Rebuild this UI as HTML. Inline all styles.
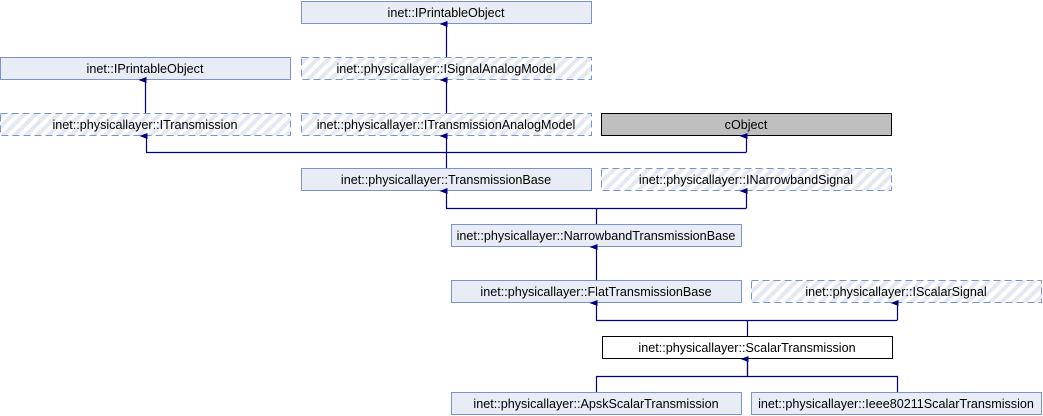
<!DOCTYPE html>
<html><head><meta charset="utf-8"><style>
html,body{margin:0;padding:0;background:#fff;width:1043px;height:416px;overflow:hidden}
text{font-family:"Liberation Sans",sans-serif;font-size:12.6px;fill:#000}
</style></head><body>
<svg width="1043" height="416" xmlns="http://www.w3.org/2000/svg">
<defs>
<pattern id="h" width="8" height="8" patternUnits="userSpaceOnUse" patternTransform="rotate(-45)">
<rect width="8" height="8" fill="#fff"/><rect width="8" height="4" fill="#e4e8f2"/>
</pattern>
<marker id="a" markerWidth="8" markerHeight="8" refX="4" refY="7" orient="auto" markerUnits="userSpaceOnUse" viewBox="0 0 8 8">
<path d="M4,0 L7,8 L1,8 Z" fill="#000080"/>
</marker>
</defs>
<g stroke="#7b93c9" stroke-width="1">
<rect x="301.5" y="1.5" width="290" height="22" fill="#e8ecf5"/>
<rect x="0.5" y="57.5" width="290" height="22" fill="#e8ecf5"/>
<rect x="301.5" y="57.5" width="290" height="22" fill="url(#h)" stroke-dasharray="7,4"/>
<rect x="0.5" y="113.5" width="290" height="22" fill="url(#h)" stroke-dasharray="7,4"/>
<rect x="301.5" y="113.5" width="290" height="22" fill="url(#h)" stroke-dasharray="7,4"/>
<rect x="601.5" y="113.5" width="290" height="22" fill="#bfbfbf" stroke="#000"/>
<rect x="301.5" y="168.5" width="290" height="22" fill="#e8ecf5"/>
<rect x="601.5" y="168.5" width="290" height="22" fill="url(#h)" stroke-dasharray="7,4"/>
<rect x="451.5" y="224.5" width="290" height="22" fill="#e8ecf5"/>
<rect x="451.5" y="280.5" width="290" height="22" fill="#e8ecf5"/>
<rect x="751.5" y="280.5" width="290" height="22" fill="url(#h)" stroke-dasharray="7,4"/>
<rect x="602.5" y="336.5" width="290" height="22" fill="#fff" stroke="#000"/>
<rect x="451.5" y="392.5" width="290" height="22" fill="#e8ecf5"/>
<rect x="751.5" y="392.5" width="290" height="22" fill="#e8ecf5"/>
</g>
<g text-anchor="middle">
<text x="446" y="17">inet::IPrintableObject</text>
<text x="145" y="73">inet::IPrintableObject</text>
<text x="446" y="73">inet::physicallayer::ISignalAnalogModel</text>
<text x="145" y="129">inet::physicallayer::ITransmission</text>
<text x="446" y="129">inet::physicallayer::ITransmissionAnalogModel</text>
<text x="746" y="129">cObject</text>
<text x="446" y="184">inet::physicallayer::TransmissionBase</text>
<text x="746" y="184">inet::physicallayer::INarrowbandSignal</text>
<text x="596" y="240">inet::physicallayer::NarrowbandTransmissionBase</text>
<text x="596" y="296">inet::physicallayer::FlatTransmissionBase</text>
<text x="896" y="296">inet::physicallayer::IScalarSignal</text>
<text x="747" y="352">inet::physicallayer::ScalarTransmission</text>
<text x="596" y="408">inet::physicallayer::ApskScalarTransmission</text>
<text x="896" y="408">inet::physicallayer::Ieee80211ScalarTransmission</text>
</g>
<g stroke="#000080" stroke-width="1.2" fill="none">
<path d="M446.5,57 V24" marker-end="url(#a)"/>
<path d="M145.5,113 V80" marker-end="url(#a)"/>
<path d="M446.5,113 V80" marker-end="url(#a)"/>
<path d="M446.5,168 V152.5 M146,152.5 H746"/>
<path d="M146.5,152.5 V136" marker-end="url(#a)"/>
<path d="M446.5,152.5 V136" marker-end="url(#a)"/>
<path d="M746.5,152.5 V136" marker-end="url(#a)"/>
<path d="M596.5,224 V208.5 M446,208.5 H746"/>
<path d="M446.5,208.5 V191" marker-end="url(#a)"/>
<path d="M746.5,208.5 V191" marker-end="url(#a)"/>
<path d="M596.5,280 V247" marker-end="url(#a)"/>
<path d="M747.5,336 V320.5 M596,320.5 H897"/>
<path d="M596.5,320.5 V303" marker-end="url(#a)"/>
<path d="M897.5,320.5 V303" marker-end="url(#a)"/>
<path d="M596.5,392 V376.5 H897.5 V392 M747.5,376.5 V359" />
<path d="M747.5,376.5 V359" marker-end="url(#a)"/>
</g>
</svg>
</body></html>
